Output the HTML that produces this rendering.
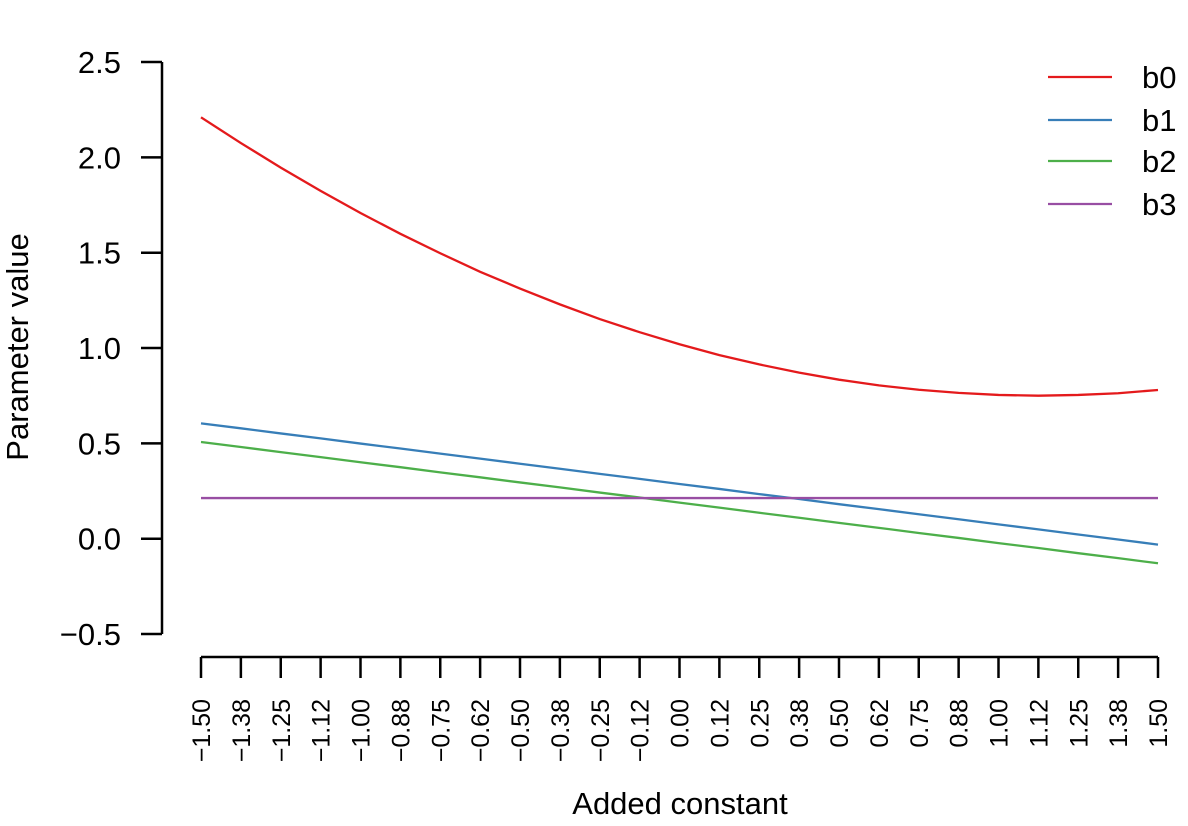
<!DOCTYPE html>
<html><head><meta charset="utf-8"><style>
body{margin:0;background:#fff}
svg text{font-family:"Liberation Sans",Arial,sans-serif;fill:#000}
</style></head><body>
<svg width="1188" height="821" viewBox="0 0 1188 821" xmlns="http://www.w3.org/2000/svg">
<g id="axes"></g><g id="series"></g><g id="legend"></g>
<text x="680" y="814" font-size="31" text-anchor="middle">Added constant</text>
<text transform="translate(28,347) rotate(-90)" font-size="31" text-anchor="middle">Parameter value</text>
</svg>
<script>
const xVals=[-1.5,-1.375,-1.25,-1.125,-1,-0.875,-0.75,-0.625,-0.5,-0.375,-0.25,-0.125,0,0.125,0.25,0.375,0.5,0.625,0.75,0.875,1,1.125,1.25,1.375,1.5];
const xTickLabels=["\u22121.50","\u22121.38","\u22121.25","\u22121.12","\u22121.00","\u22120.88","\u22120.75","\u22120.62","\u22120.50","\u22120.38","\u22120.25","\u22120.12","0.00","0.12","0.25","0.38","0.50","0.62","0.75","0.88","1.00","1.12","1.25","1.38","1.50"];
const yTicks=[-0.5,0,0.5,1,1.5,2,2.5];
const yTickLabels=["\u22120.5","0.0","0.5","1.0","1.5","2.0","2.5"];
const b0=[2.21,2.075,1.946,1.824,1.708,1.599,1.497,1.400,1.312,1.229,1.152,1.083,1.02,0.963,0.914,0.871,0.834,0.804,0.781,0.765,0.754,0.750,0.754,0.763,0.780];
const b1=[0.605,0.579,0.552,0.526,0.499,0.473,0.446,0.420,0.393,0.367,0.340,0.314,0.287,0.261,0.234,0.208,0.181,0.155,0.128,0.102,0.075,0.049,0.022,-0.004,-0.031];
const b2=[0.507,0.481,0.454,0.428,0.401,0.375,0.348,0.322,0.295,0.269,0.242,0.216,0.189,0.163,0.136,0.110,0.083,0.057,0.030,0.004,-0.023,-0.049,-0.076,-0.102,-0.129];
const b3=[0.213,0.213,0.213,0.213,0.213,0.213,0.213,0.213,0.213,0.213,0.213,0.213,0.213,0.213,0.213,0.213,0.213,0.213,0.213,0.213,0.213,0.213,0.213,0.213,0.213];
const seriesNames=["b0","b1","b2","b3"];
const NS="http://www.w3.org/2000/svg";
const xs=v=>201+(v+1.5)/3*957;
const ys=v=>538.7-v*190.67;
function mk(t,a,p){const e=document.createElementNS(NS,t);for(const k in a)e.setAttribute(k,a[k]);p.appendChild(e);return e;}
const ax=document.getElementById('axes');
let l=mk('line',{x1:162,x2:162,y1:ys(2.5),y2:ys(-0.5),stroke:'#000','stroke-width':2.5},ax);

yTicks.forEach((v,i)=>{
 const t=mk('line',{x1:141,x2:162,y1:ys(v),y2:ys(v),stroke:'#000','stroke-width':2.5},ax);
 
 const tx=mk('text',{x:121,y:ys(v)+11,'font-size':31,'text-anchor':'end'},ax);tx.textContent=yTickLabels[i];
 
});
l=mk('line',{x1:xs(-1.5),x2:xs(1.5),y1:657,y2:657,stroke:'#000','stroke-width':2.5},ax);

xVals.forEach((v,i)=>{
 const t=mk('line',{x1:xs(v),x2:xs(v),y1:657,y2:678,stroke:'#000','stroke-width':2.5},ax);
 
 const tx=mk('text',{transform:`translate(${xs(v)+9},699) rotate(-90)`,'font-size':25,'text-anchor':'end'},ax);tx.textContent=xTickLabels[i];
 
});
const colors=['#e41a1c','#377eb8','#4daf4a','#984ea3'];
const sg=document.getElementById('series');
[b0,b1,b2,b3].forEach((d,k)=>{
 const p=mk('polyline',{points:d.map((v,i)=>xs(xVals[i])+','+ys(v)).join(' '),fill:'none',stroke:colors[k],'stroke-width':2.3},sg);
 
});
const lg=document.getElementById('legend');
const ly=[77,120,161,204];
seriesNames.forEach((n,k)=>{
 const g=mk('g',{},lg);
 
 mk('line',{x1:1048,x2:1112,y1:ly[k],y2:ly[k],stroke:colors[k],'stroke-width':2.3},g);
 const t=mk('text',{x:1142,y:ly[k]+11,'font-size':31},g);t.textContent=n;
});
</script>
</body></html>
